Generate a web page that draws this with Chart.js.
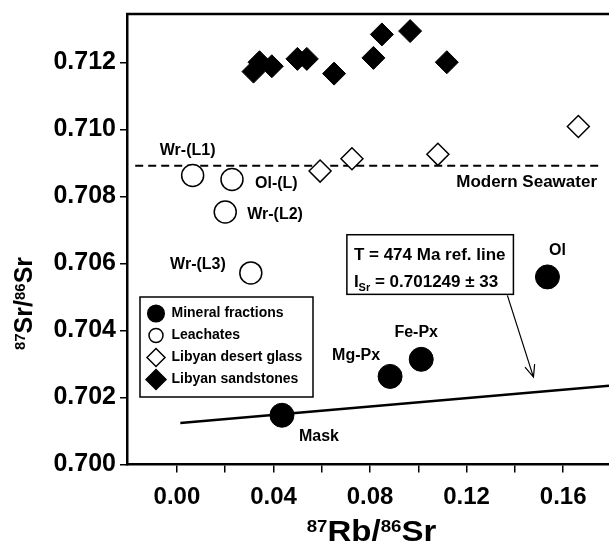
<!DOCTYPE html>
<html>
<head>
<meta charset="utf-8">
<script src="https://cdn.jsdelivr.net/npm/chart.js"></script>
<style>
  html, body { margin: 0; padding: 0; background: #fff; }
  #wrap { width: 609px; height: 542px; }
</style>
</head>
<body>
<div id="wrap"><canvas id="srChart" width="609" height="542"></canvas></div>
<script>
// values
const mineralLabels = ["Mask", "Mg-Px", "Fe-Px", "Ol"];
const mineralRb = [0.0435, 0.0883, 0.1012, 0.1535];
const mineralSr = [0.70147, 0.70263, 0.70314, 0.70560];

const leachLabels = ["Wr-(L1)", "Ol-(L)", "Wr-(L2)", "Wr-(L3)"];
const leachRb = [0.0065, 0.0228, 0.0200, 0.0306];
const leachSr = [0.70863, 0.70851, 0.70754, 0.70572];

const glassRb = [0.0593, 0.0725, 0.1081, 0.1663];
const glassSr = [0.70876, 0.70913, 0.70926, 0.71009];

const sandRb = [0.0317, 0.0342, 0.0393, 0.0499, 0.0538, 0.0651, 0.0814, 0.0849, 0.0966, 0.1118];
const sandSr = [0.71173, 0.71201, 0.71189, 0.71211, 0.71211, 0.71167, 0.71214, 0.71284, 0.71294, 0.71201];

const seawaterRb = [-0.0173, 0.1765];
const seawaterSr = 0.70892;

// T = 474 Ma reference line, end points
const refLineRb = [0.0014, 0.179];
const refLineSr = [0.70124, 0.70235];

const xTickValues = [0.00, 0.02, 0.04, 0.06, 0.08, 0.10, 0.12, 0.14, 0.16];
const xTickLabels = ["0.00", "", "0.04", "", "0.08", "", "0.12", "", "0.16"];
const yTickValues = [0.700, 0.702, 0.704, 0.706, 0.708, 0.710, 0.712];
const yTickLabels = ["0.700", "0.702", "0.704", "0.706", "0.708", "0.710", "0.712"];

const FONT = "'Liberation Sans', Arial, Helvetica, sans-serif";
const pts = (xs, ys) => xs.map((x, i) => ({ x: x, y: ys[i] }));

function drawMarker(ctx, style, x, y, r, fill) {
  ctx.beginPath();
  if (style === 'circle') {
    ctx.arc(x, y, r, 0, Math.PI * 2);
  } else {
    ctx.moveTo(x - r, y);
    ctx.lineTo(x, y - r);
    ctx.lineTo(x + r, y);
    ctx.lineTo(x, y + r);
    ctx.closePath();
  }
  ctx.fillStyle = fill;
  ctx.fill();
  ctx.lineWidth = 1.5;
  ctx.strokeStyle = '#000';
  ctx.stroke();
}

// text made of pieces with their own font and vertical shift (super/subscripts)
function drawRich(ctx, parts, x, y, align) {
  let total = 0;
  parts.forEach(p => {
    ctx.font = p.font;
    p.w = ctx.measureText(p.t).width;
    total += p.w;
  });
  let cx = align === 'center' ? x - total / 2 : x;
  ctx.textAlign = 'left';
  ctx.textBaseline = 'alphabetic';
  parts.forEach(p => {
    ctx.font = p.font;
    ctx.fillText(p.t, cx, y + (p.dy || 0));
    cx += p.w;
  });
}

const pointLabels = [
  { text: leachLabels[0], ds: 1, i: 0, dx: -5, dy: -25, align: 'center' },
  { text: leachLabels[1], ds: 1, i: 1, dx: 23, dy: 4, align: 'left' },
  { text: leachLabels[2], ds: 1, i: 2, dx: 22, dy: 3, align: 'left' },
  { text: leachLabels[3], ds: 1, i: 3, dx: -25, dy: -8, align: 'right' },
  { text: mineralLabels[0], ds: 0, i: 0, dx: 17, dy: 21, align: 'left' },
  { text: mineralLabels[1], ds: 0, i: 1, dx: -10, dy: -21, align: 'right' },
  { text: mineralLabels[2], ds: 0, i: 2, dx: -5, dy: -27, align: 'center' },
  { text: mineralLabels[3], ds: 0, i: 3, dx: 10, dy: -26, align: 'center' }
];

const decorations = {
  id: 'decorations',
  afterDraw(chart) {
    const ctx = chart.ctx;
    const area = chart.chartArea;
    const xs = chart.scales.x, ys = chart.scales.y;
    ctx.save();
    ctx.fillStyle = '#000';
    ctx.strokeStyle = '#000';

    // top frame line
    ctx.lineWidth = 2.5;
    ctx.beginPath();
    ctx.moveTo(area.left - 1, area.top);
    ctx.lineTo(area.right, area.top);
    ctx.stroke();

    // point labels
    ctx.font = 'bold 16px ' + FONT;
    ctx.textBaseline = 'middle';
    pointLabels.forEach(l => {
      const el = chart.getDatasetMeta(l.ds).data[l.i];
      ctx.textAlign = l.align;
      ctx.fillText(l.text, el.x + l.dx, el.y + l.dy);
    });

    // seawater label
    ctx.font = 'bold 17px ' + FONT;
    ctx.textAlign = 'right';
    ctx.fillText('Modern Seawater', 597, ys.getPixelForValue(seawaterSr) + 17);

    // reference line annotation box
    const bx0 = xs.getPixelForValue(0.0704), bx1 = xs.getPixelForValue(0.1394);
    const by0 = ys.getPixelForValue(0.70686), by1 = ys.getPixelForValue(0.70508);
    ctx.fillStyle = '#fff';
    ctx.fillRect(bx0, by0, bx1 - bx0, by1 - by0);
    ctx.lineWidth = 1.5;
    ctx.strokeRect(bx0, by0, bx1 - bx0, by1 - by0);
    ctx.fillStyle = '#000';
    const bold17 = 'bold 17px ' + FONT;
    drawRich(ctx, [{ t: 'T = 474 Ma ref. line', font: bold17 }], bx0 + 7, by0 + 25, 'left');
    drawRich(ctx, [
      { t: 'I', font: bold17 },
      { t: 'Sr', font: 'bold 11px ' + FONT, dy: 4 },
      { t: ' = 0.701249 \u00b1 33', font: bold17 }
    ], bx0 + 7, by0 + 52, 'left');

    // arrow to the line
    const ax0 = xs.getPixelForValue(0.1369), ay0 = ys.getPixelForValue(0.70505);
    const ax1 = xs.getPixelForValue(0.1477), ay1 = ys.getPixelForValue(0.70261);
    const ang = Math.atan2(ay1 - ay0, ax1 - ax0);
    ctx.lineWidth = 1.2;
    ctx.beginPath();
    ctx.moveTo(ax0, ay0);
    ctx.lineTo(ax1, ay1);
    ctx.moveTo(ax1 - 13 * Math.cos(ang - 0.4), ay1 - 13 * Math.sin(ang - 0.4));
    ctx.lineTo(ax1, ay1);
    ctx.lineTo(ax1 - 13 * Math.cos(ang + 0.4), ay1 - 13 * Math.sin(ang + 0.4));
    ctx.stroke();

    // legend box
    const lx = 140, ly = 297, lw = 173, lh = 100;
    ctx.fillStyle = '#fff';
    ctx.fillRect(lx, ly, lw, lh);
    ctx.lineWidth = 1.5;
    ctx.strokeRect(lx, ly, lw, lh);
    const legendSizes = [8.3, 7, 9, 10];
    ctx.font = 'bold 14px ' + FONT;
    chart.data.datasets.slice(0, 4).forEach((ds, k) => {
      const yy = 313.5 + k * 22;
      drawMarker(ctx, ds.pointStyle === 'circle' ? 'circle' : 'diamond', 156, yy, legendSizes[k], ds.pointBackgroundColor);
      ctx.fillStyle = '#000';
      ctx.textAlign = 'left';
      ctx.textBaseline = 'middle';
      ctx.fillText(ds.label, 171.5, yy);
    });

    // axis titles with superscripts
    ctx.fillStyle = '#000';
    ctx.save();
    ctx.translate(371.5, 541);
    ctx.scale(1.1, 1);
    drawRich(ctx, [
      { t: '87', font: 'bold 17px ' + FONT, dy: -9 },
      { t: 'Rb/', font: 'bold 30px ' + FONT },
      { t: '86', font: 'bold 17px ' + FONT, dy: -9 },
      { t: 'Sr', font: 'bold 30px ' + FONT }
    ], 0, 0, 'center');
    ctx.restore();

    ctx.save();
    ctx.translate(32, 303.5);
    ctx.rotate(-Math.PI / 2);
    drawRich(ctx, [
      { t: '87', font: 'bold 15px ' + FONT, dy: -7 },
      { t: 'Sr/', font: 'bold 25px ' + FONT },
      { t: '86', font: 'bold 15px ' + FONT, dy: -7 },
      { t: 'Sr', font: 'bold 25px ' + FONT }
    ], 0, 0, 'center');
    ctx.restore();

    ctx.restore();
  }
};

const ctx = document.getElementById('srChart').getContext('2d');
new Chart(ctx, {
  type: 'scatter',
  data: {
    datasets: [
      {
        label: 'Mineral fractions',
        data: pts(mineralRb, mineralSr),
        pointStyle: 'circle',
        pointRadius: 12,
        pointBackgroundColor: '#000',
        pointBorderColor: '#000',
        pointBorderWidth: 1
      },
      {
        label: 'Leachates',
        data: pts(leachRb, leachSr),
        pointStyle: 'circle',
        pointRadius: 11,
        pointBackgroundColor: '#fff',
        pointBorderColor: '#000',
        pointBorderWidth: 1.5
      },
      {
        label: 'Libyan desert glass',
        data: pts(glassRb, glassSr),
        pointStyle: 'rectRot',
        pointRadius: 11,
        pointBackgroundColor: '#fff',
        pointBorderColor: '#000',
        pointBorderWidth: 1.5
      },
      {
        label: 'Libyan sandstones',
        data: pts(sandRb, sandSr),
        pointStyle: 'rectRot',
        pointRadius: 11.5,
        pointBackgroundColor: '#000',
        pointBorderColor: '#000',
        pointBorderWidth: 1
      },
      {
        label: 'Modern Seawater',
        data: seawaterRb.map(x => ({ x: x, y: seawaterSr })),
        showLine: true,
        borderColor: '#000',
        borderWidth: 2,
        borderDash: [8, 5],
        pointRadius: 0
      },
      {
        label: 'T = 474 Ma ref. line',
        data: pts(refLineRb, refLineSr),
        showLine: true,
        borderColor: '#000',
        borderWidth: 2.5,
        pointRadius: 0
      }
    ]
  },
  options: {
    responsive: false,
    animation: false,
    devicePixelRatio: 1,
    layout: { autoPadding: false, padding: { top: 14, left: 0, right: 0, bottom: 0 } },
    plugins: {
      legend: { display: false },
      tooltip: { enabled: false }
    },
    scales: {
      x: {
        type: 'linear',
        min: -0.0207,
        max: 0.179,
        afterFit: s => { s.height = 77.5; s.paddingLeft = 0; s.paddingRight = 0; },
        afterBuildTicks: s => { s.ticks = xTickValues.map(v => ({ value: v })); },
        border: { display: true, color: '#000', width: 2.5 },
        grid: { drawOnChartArea: false, drawTicks: true, tickLength: 8, color: '#000', lineWidth: 1.5 },
        ticks: {
          autoSkip: false,
          maxRotation: 0,
          padding: 10,
          color: '#000',
          font: { family: FONT, size: 24, weight: 'bold' },
          callback: (v, i) => xTickLabels[i]
        }
      },
      y: {
        type: 'linear',
        min: 0.700,
        max: 0.71345,
        afterFit: s => { s.width = 127; s.paddingTop = 0; s.paddingBottom = 0; },
        afterBuildTicks: s => { s.ticks = yTickValues.map(v => ({ value: v })); },
        border: { display: true, color: '#000', width: 2.5 },
        grid: { drawOnChartArea: false, drawTicks: true, tickLength: 7, color: '#000', lineWidth: 1.5 },
        ticks: {
          autoSkip: false,
          padding: 4,
          color: '#000',
          font: { family: FONT, size: 25, weight: 'bold' },
          callback: (v, i) => yTickLabels[i]
        }
      }
    }
  },
  plugins: [decorations]
});
</script>
</body>
</html>
